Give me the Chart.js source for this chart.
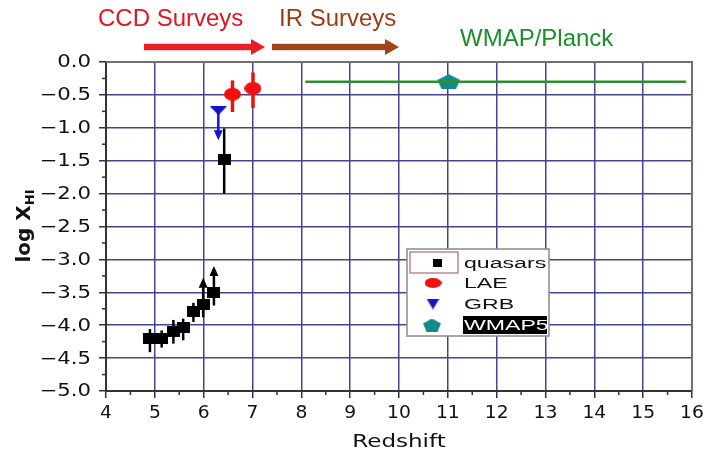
<!DOCTYPE html>
<html>
<head>
<meta charset="utf-8">
<script src="https://cdn.jsdelivr.net/npm/chart.js@4.4.0/dist/chart.umd.min.js"></script>
<style>
  html, body { margin: 0; padding: 0; background: #fff; }
  #wrap { width: 704px; height: 454px; }
</style>
</head>
<body>
<div id="wrap"><canvas id="chart" width="704" height="454"></canvas></div>
<script>
// redshift vs log neutral fraction
const quasarZ = [4.90, 5.14, 5.38, 5.58, 5.79, 5.99, 6.21, 6.42];
const quasarLogX = [-4.20, -4.20, -4.09, -4.04, -3.79, -3.69, -3.50, -1.48];
const quasarErrUp = [0.14, 0.12, 0.17, 0.14, 0.13, 0.00, 0.00, 0.47];
const quasarErrDown = [0.21, 0.14, 0.19, 0.19, 0.16, 0.19, 0.20, 0.52];
const quasarLowerLimit = [null, null, null, null, null, -3.28, -3.10, null];

const laeZ = [6.59, 7.01];
const laeLogX = [-0.49, -0.40];
const laeErrUp = [0.21, 0.24];
const laeErrDown = [0.27, 0.30];

const grbZ = [6.30];
const grbLogX = [-0.74];
const grbUpperLimit = [-1.19];

const wmapZ = [11.02];
const wmapLogX = [-0.30];
const wmapBandZ = [8.08, 15.88];
const wmapBandLogX = [-0.30, -0.30];

const legendLabels = ["quasars", "LAE", "GRB", "WMAP5"];
const surveyLabels = ["CCD Surveys", "IR Surveys", "WMAP/Planck"];
const xTitle = "Redshift";

const gridColor = "#44448f";
const tickFont = "17px 'DejaVu Sans', sans-serif";

function makeMarker(w, h, color, shape) {
    const c = document.createElement("canvas");
    c.width = w;
    c.height = h;
    const g = c.getContext("2d");
    g.fillStyle = color;
    g.beginPath();
    if (shape === "rect") {
        g.rect(0, 0, w, h);
    } else if (shape === "ellipse") {
        g.ellipse(w / 2, h / 2, w / 2, h / 2, 0, 0, Math.PI * 2);
    } else if (shape === "tri") {
        g.moveTo(0, 0);
        g.lineTo(w, 0);
        g.lineTo(w / 2, h);
        g.closePath();
    } else if (shape === "penta") {
        const sx = w / 1.902, sy = h / 1.809;
        for (let i = 0; i < 5; i++) {
            const a = -Math.PI / 2 + (i * 2 * Math.PI) / 5;
            const px = w / 2 + sx * Math.cos(a);
            const py = sy * (Math.sin(a) + 1);
            if (i === 0) g.moveTo(px, py);
            else g.lineTo(px, py);
        }
        g.closePath();
    }
    g.fill();
    return c;
}

const quasarMark = makeMarker(13, 11, "#000", "rect");
const laeMark = makeMarker(17, 13, "#f01010", "ellipse");
const grbMark = makeMarker(17, 9, "#1414d0", "tri");
const wmapMark = makeMarker(23, 15, "#12898a", "penta");

const legendMarks = [
    makeMarker(9, 8, "#000", "rect"),
    makeMarker(17, 10, "#f01010", "ellipse"),
    makeMarker(13, 11, "#1414d0", "tri"),
    makeMarker(18, 13, "#12898a", "penta"),
];

const toPts = (xs, ys) => xs.map((x, i) => ({ x: x, y: ys[i] }));

function stretchText(c, text, x, y, align, sx) {
    c.save();
    c.translate(x, y);
    c.scale(sx, 1);
    c.textAlign = align;
    c.fillText(text, 0, 0);
    c.restore();
}

function arrowHead(c, x, y, dir, w, h) {
    // dir -1 = pointing up, +1 = pointing down
    c.beginPath();
    c.moveTo(x, y);
    c.lineTo(x - w / 2, y - dir * h);
    c.lineTo(x + w / 2, y - dir * h);
    c.closePath();
    c.fill();
}

function hArrow(c, x0, x1, y, color) {
    c.fillStyle = color;
    c.fillRect(x0, y - 3.2, x1 - x0 - 13, 6.4);
    c.beginPath();
    c.moveTo(x1, y);
    c.lineTo(x1 - 14, y - 8);
    c.lineTo(x1 - 14, y + 8);
    c.closePath();
    c.fill();
}

const decor = {
    id: "decor",
    beforeDraw(chart) {
        const c = chart.ctx;
        c.save();
        c.fillStyle = "#fff";
        c.fillRect(0, 0, chart.width, chart.height);
        c.restore();
    },
    beforeDatasetsDraw(chart) {
        const c = chart.ctx;
        const xs = chart.scales.x, ys = chart.scales.y;
        c.save();
        // quasar error bars + lower limits
        c.strokeStyle = "#000";
        c.fillStyle = "#000";
        c.lineWidth = 2.5;
        quasarZ.forEach((z, i) => {
            const px = xs.getPixelForValue(z);
            const lim = quasarLowerLimit[i];
            const top = lim !== null ? lim : quasarLogX[i] + quasarErrUp[i];
            const y0 = ys.getPixelForValue(quasarLogX[i] - quasarErrDown[i]);
            const y1 = ys.getPixelForValue(top);
            c.beginPath();
            c.moveTo(px, y0);
            c.lineTo(px, lim !== null ? y1 + 8 : y1);
            c.stroke();
            if (lim !== null) arrowHead(c, px, y1, -1, 9, 10);
        });
        // LAE error bars
        c.strokeStyle = "#f01010";
        c.lineWidth = 3.5;
        laeZ.forEach((z, i) => {
            const px = xs.getPixelForValue(z);
            c.beginPath();
            c.moveTo(px, ys.getPixelForValue(laeLogX[i] + laeErrUp[i]));
            c.lineTo(px, ys.getPixelForValue(laeLogX[i] - laeErrDown[i]));
            c.stroke();
        });
        // GRB upper limit
        c.strokeStyle = "#1414d0";
        c.fillStyle = "#1414d0";
        c.lineWidth = 2.5;
        grbZ.forEach((z, i) => {
            const px = xs.getPixelForValue(z);
            const yt = ys.getPixelForValue(grbUpperLimit[i]);
            c.beginPath();
            c.moveTo(px, ys.getPixelForValue(grbLogX[i]));
            c.lineTo(px, yt - 8);
            c.stroke();
            arrowHead(c, px, yt, 1, 9, 10);
        });
        c.restore();
    },
    afterDraw(chart) {
        const c = chart.ctx;
        const xs = chart.scales.x, ys = chart.scales.y;
        const a = chart.chartArea;
        c.save();

        // top and right frame
        c.strokeStyle = "#707070";
        c.lineWidth = 2;
        c.beginPath();
        c.moveTo(a.left, a.top);
        c.lineTo(a.right, a.top);
        c.lineTo(a.right, a.bottom);
        c.stroke();

        // minor ticks
        c.strokeStyle = "#333";
        c.lineWidth = 1.5;
        for (let i = 0; i < xs.ticks.length - 1; i++) {
            const px = xs.getPixelForValue((xs.ticks[i].value + xs.ticks[i + 1].value) / 2);
            c.beginPath();
            c.moveTo(px, a.bottom);
            c.lineTo(px, a.bottom + 4);
            c.stroke();
        }
        for (let i = 0; i < ys.ticks.length - 1; i++) {
            const py = ys.getPixelForValue((ys.ticks[i].value + ys.ticks[i + 1].value) / 2);
            c.beginPath();
            c.moveTo(a.left, py);
            c.lineTo(a.left - 4, py);
            c.stroke();
        }

        // tick labels
        c.fillStyle = "#111";
        c.font = tickFont;
        c.textBaseline = "alphabetic";
        xs.ticks.forEach((t) => {
            stretchText(c, String(t.value), xs.getPixelForValue(t.value), 418, "center", 1.1);
        });
        c.textBaseline = "middle";
        ys.ticks.forEach((t) => {
            const lab = t.value.toFixed(1).replace("-", "\u2212");
            stretchText(c, lab, 91, ys.getPixelForValue(t.value) + 1, "right", 1.25);
        });

        // axis titles
        c.textBaseline = "alphabetic";
        c.font = "18px 'DejaVu Sans', sans-serif";
        stretchText(c, xTitle, (a.left + a.right) / 2, 447, "center", 1.28);
        c.save();
        c.translate(30, 226);
        c.rotate(-Math.PI / 2);
        c.font = "bold 20px 'DejaVu Sans', sans-serif";
        const w1 = c.measureText("log X").width;
        c.font = "bold 13px 'DejaVu Sans', sans-serif";
        const w2 = c.measureText("HI").width;
        const x0 = -(w1 + w2) / 2;
        c.font = "bold 20px 'DejaVu Sans', sans-serif";
        c.textAlign = "left";
        c.fillText("log X", x0, 0);
        c.font = "bold 13px 'DejaVu Sans', sans-serif";
        c.fillText("HI", x0 + w1, 4);
        c.restore();

        // survey annotations
        c.font = "24px 'Liberation Sans', Arial, sans-serif";
        c.textAlign = "left";
        c.fillStyle = "#e3141e";
        c.fillText(surveyLabels[0], 98, 26);
        c.fillStyle = "#9b3d12";
        c.fillText(surveyLabels[1], 279, 26);
        c.fillStyle = "#19902a";
        c.fillText(surveyLabels[2], 460, 46);
        hArrow(c, 144, 265, 47, "#ec1c24");
        hArrow(c, 272, 399, 47, "#a0441a");

        // legend
        const lx = 407, ly = 249, lw = 142, lh = 87;
        c.fillStyle = "#fff";
        c.fillRect(lx, ly, lw, lh);
        c.strokeStyle = "#8a8a8a";
        c.lineWidth = 1.5;
        c.strokeRect(lx, ly, lw, lh);
        c.strokeStyle = "#b06a78";
        c.lineWidth = 1.2;
        c.strokeRect(410, 252, 48, 21);
        const rowY = [263, 283, 304, 325];
        const markX = [437, 433, 433, 432];
        const baseY = [268, 287.5, 308.5, 329.5];
        legendLabels.forEach((lab, i) => {
            const m = legendMarks[i];
            c.drawImage(m, markX[i] - m.width / 2, rowY[i] - m.height / 2);
            c.font = "14px 'Liberation Sans', Arial, sans-serif";
            if (i === 3) {
                c.fillStyle = "#000";
                c.fillRect(463, 316, 84, 18);
                c.fillStyle = "#fff";
            } else {
                c.fillStyle = "#111";
            }
            stretchText(c, lab, 464, baseY[i], "left", 1.65);
        });
        c.restore();
    },
};

new Chart(document.getElementById("chart").getContext("2d"), {
    type: "scatter",
    data: {
        datasets: [
            {
                label: "WMAP/Planck",
                data: toPts(wmapBandZ, wmapBandLogX),
                showLine: true,
                borderColor: "#2f8f2f",
                borderWidth: 2.5,
                pointRadius: 0,
            },
            { label: "quasars", data: toPts(quasarZ, quasarLogX), pointStyle: quasarMark, pointRadius: 6 },
            { label: "LAE", data: toPts(laeZ, laeLogX), pointStyle: laeMark, pointRadius: 6 },
            { label: "GRB", data: toPts(grbZ, grbLogX), pointStyle: grbMark, pointRadius: 6 },
            { label: "WMAP5", data: toPts(wmapZ, wmapLogX), pointStyle: wmapMark, pointRadius: 6 },
        ],
    },
    options: {
        responsive: false,
        animation: false,
        events: [],
        layout: { padding: { top: 62, right: 12, left: 0, bottom: 0 } },
        plugins: { legend: { display: false }, tooltip: { enabled: false } },
        scales: {
            x: {
                type: "linear",
                min: 4,
                max: 16,
                afterFit: (s) => { s.height = 63; },
                ticks: { display: false, stepSize: 1 },
                grid: { color: gridColor, lineWidth: 1.5, tickColor: "#333", tickLength: 7, tickWidth: 1.5 },
                border: { color: "#333", width: 2 },
            },
            y: {
                type: "linear",
                min: -5,
                max: 0,
                afterFit: (s) => { s.width = 106; },
                ticks: { display: false, stepSize: 0.5 },
                grid: { color: gridColor, lineWidth: 1.5, tickColor: "#333", tickLength: 7, tickWidth: 1.5 },
                border: { color: "#333", width: 2 },
            },
        },
    },
    plugins: [decor],
});
</script>
</body>
</html>
